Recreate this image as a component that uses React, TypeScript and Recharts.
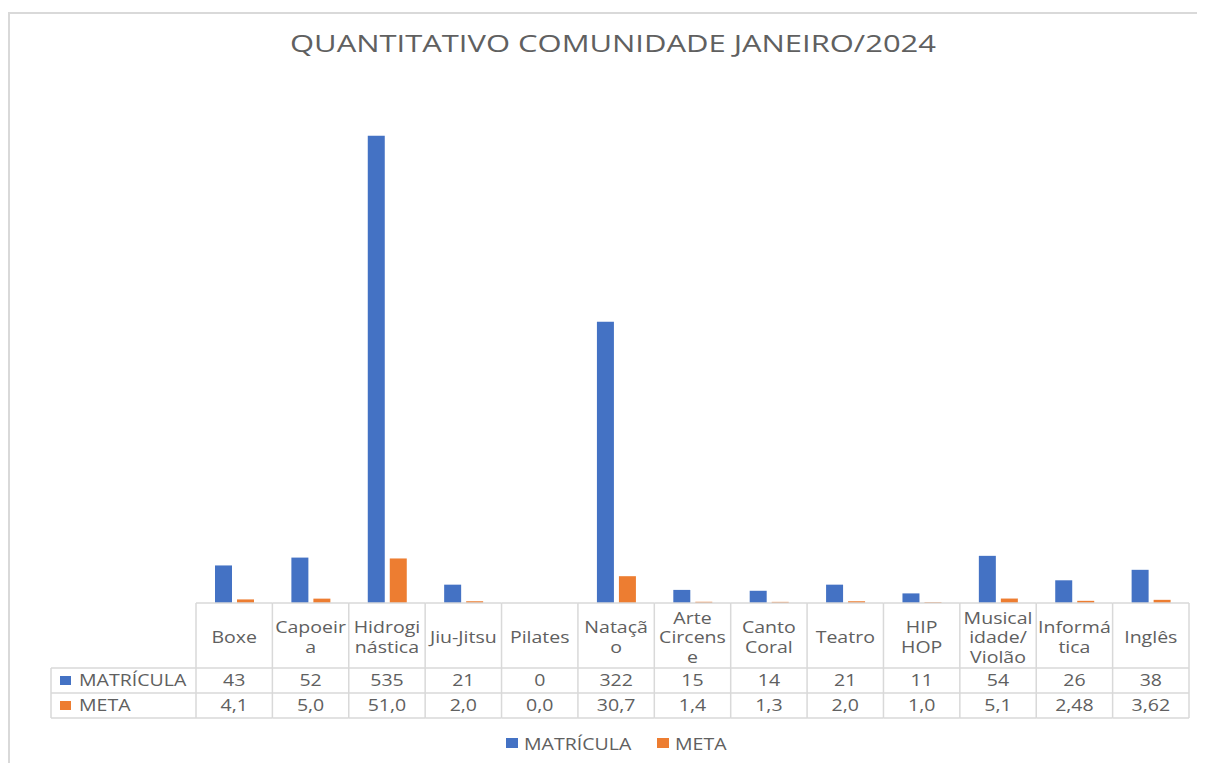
import { BarChart, Bar, XAxis, YAxis } from 'recharts';

const categories = [
  'Boxe',
  'Capoeira',
  'Hidroginástica',
  'Jiu-Jitsu',
  'Pilates',
  'Natação',
  'Arte Circense',
  'Canto Coral',
  'Teatro',
  'HIP HOP',
  'Musicalidade/Violão',
  'Informática',
  'Inglês',
];

// how the category names wrap in the table header
const headerLines = [
  ['Boxe'],
  ['Capoeir', 'a'],
  ['Hidrogi', 'nástica'],
  ['Jiu-Jitsu'],
  ['Pilates'],
  ['Nataçã', 'o'],
  ['Arte', 'Circens', 'e'],
  ['Canto', 'Coral'],
  ['Teatro'],
  ['HIP', 'HOP'],
  ['Musical', 'idade/', 'Violão'],
  ['Informá', 'tica'],
  ['Inglês'],
];

const matricula = [43, 52, 535, 21, 0, 322, 15, 14, 21, 11, 54, 26, 38];
const meta = [4.1, 5.0, 51.0, 2.0, 0.0, 30.7, 1.4, 1.3, 2.0, 1.0, 5.1, 2.48, 3.62];

const seriesNames = ['MATRÍCULA', 'META'];
const seriesColors = ['#4472C4', '#ED7D31'];

const title = 'QUANTITATIVO COMUNIDADE JANEIRO/2024';

const data = categories.map((name, i) => ({
  name,
  matricula: matricula[i],
  meta: meta[i],
}));

const W = 1197;
const H = 755;
const MARGIN = { top: 71, right: 16, left: 188, bottom: 0 };
const COL_W = (W - MARGIN.left - MARGIN.right) / categories.length;
const TABLE_LEFT = 43;
const GRID = '#d9d9d9';
const TXT = '#606060';
const FONT = '"Open Sans", sans-serif';
const SX = 1.26;

const fmtMeta = (n: number) => {
  const tenth = Math.abs(Math.round(n * 10) - n * 10) < 1e-9;
  return n.toFixed(tenth ? 1 : 2).replace('.', ',');
};

function SText({ x, y, children, anchor = 'middle', size = 15.5 }: any) {
  return (
    <g transform={`translate(${x},${y}) scale(${SX},1)`}>
      <text x={0} y={0} textAnchor={anchor} fontSize={size} fill={TXT} fontFamily={FONT}>
        {children}
      </text>
    </g>
  );
}

function TableTick(props: any) {
  const { x, y, payload } = props;
  const i = props.index ?? payload.index;
  const left = x - COL_W / 2;
  const right = x + COL_W / 2;
  const lines = headerLines[i];
  const hCenter = y + 32.5;
  const first = hCenter - ((lines.length - 1) * 19.5) / 2 + 7.5;
  const rowY = [y + 77.5, y + 102.5];
  const isLast = i === categories.length - 1;

  return (
    <g>
      <line x1={left} x2={left} y1={y} y2={y + 115} stroke={GRID} strokeWidth={1.5} />
      {isLast && <line x1={right} x2={right} y1={y} y2={y + 115} stroke={GRID} strokeWidth={1.5} />}
      <line x1={left} x2={right} y1={y} y2={y} stroke={GRID} strokeWidth={1.5} />
      <line x1={left} x2={right} y1={y + 65} y2={y + 65} stroke={GRID} strokeWidth={1.5} />
      <line x1={left} x2={right} y1={y + 90} y2={y + 90} stroke={GRID} strokeWidth={1.5} />
      <line x1={left} x2={right} y1={y + 115} y2={y + 115} stroke={GRID} strokeWidth={1.5} />
      {lines.map((l, k) => (
        <SText key={k} x={x} y={first + k * 19.5}>
          {l}
        </SText>
      ))}
      <SText x={x} y={rowY[0] + 5}>{String(matricula[i])}</SText>
      <SText x={x} y={rowY[1] + 5}>{fmtMeta(meta[i])}</SText>
      {i === 0 && (
        <g>
          <line x1={TABLE_LEFT} x2={TABLE_LEFT} y1={y + 65} y2={y + 115} stroke={GRID} strokeWidth={1.5} />
          <line x1={TABLE_LEFT} x2={left} y1={y + 65} y2={y + 65} stroke={GRID} strokeWidth={1.5} />
          <line x1={TABLE_LEFT} x2={left} y1={y + 90} y2={y + 90} stroke={GRID} strokeWidth={1.5} />
          <line x1={TABLE_LEFT} x2={left} y1={y + 115} y2={y + 115} stroke={GRID} strokeWidth={1.5} />
          {seriesNames.map((s, k) => (
            <g key={s}>
              <rect x={TABLE_LEFT + 9} y={rowY[k] - 4.5} width={11} height={9} fill={seriesColors[k]} />
              <SText x={TABLE_LEFT + 28} y={rowY[k] + 5} anchor="start">
                {s}
              </SText>
            </g>
          ))}
        </g>
      )}
    </g>
  );
}

export default function App() {
  return (
    <div style={{ position: 'relative', width: W, height: H, background: '#fff' }}>
      <div
        style={{
          position: 'absolute',
          left: 0,
          top: 4,
          width: W + 8,
          height: H - 4,
          borderTop: `2px solid ${GRID}`,
          borderLeft: `2px solid ${GRID}`,
          boxSizing: 'border-box',
        }}
      />
      <svg width={W} height={H} style={{ position: 'absolute', left: 0, top: 0 }}>
        <g transform={`translate(605,44) scale(1.29,1)`}>
          <text x={0} y={0} textAnchor="middle" fontSize={24} fill={TXT} fontFamily={FONT}>
            {title}
          </text>
        </g>
        {seriesNames.map((s, k) => {
          const x0 = k === 0 ? 498 : 649;
          return (
            <g key={s}>
              <rect x={x0} y={730} width={12} height={10} fill={seriesColors[k]} />
              <SText x={x0 + 18} y={742} anchor="start">
                {s}
              </SText>
            </g>
          );
        })}
      </svg>
      <div style={{ position: 'absolute', left: 0, top: 0 }}>
        <BarChart width={W} height={H} data={data} margin={MARGIN} barSize={17} barGap={5}>
          <XAxis
            dataKey="name"
            height={160}
            axisLine={false}
            tickLine={false}
            tickSize={0}
            tickMargin={0}
            interval={0}
            tick={<TableTick />}
          />
          <YAxis hide domain={[0, 600]} />
          <Bar dataKey="matricula" name={seriesNames[0]} fill={seriesColors[0]} isAnimationActive={false} />
          <Bar dataKey="meta" name={seriesNames[1]} fill={seriesColors[1]} isAnimationActive={false} />
        </BarChart>
      </div>
    </div>
  );
}
